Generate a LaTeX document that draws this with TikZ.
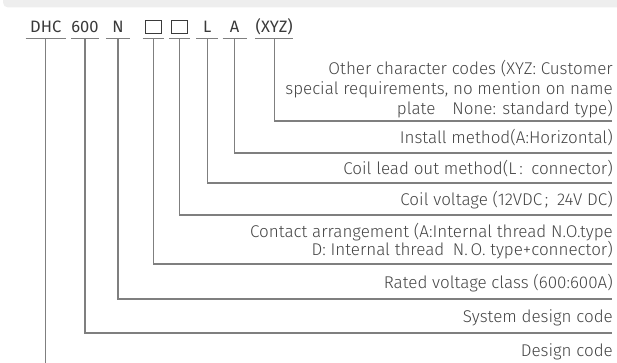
\documentclass[tikz,border=0pt]{standalone}
\usepackage{fontspec}
\setmainfont{Fira Sans Light}
\newfontfamily\codefont{Fira Sans}
\usetikzlibrary{calc}
\definecolor{txt}{HTML}{444444}
\definecolor{codetxt}{HTML}{3A3A3A}
\definecolor{ln}{HTML}{7F7F7F}
\definecolor{band}{HTML}{EEEEEE}
\newcommand{\codebox}{{\setlength\fboxsep{0pt}\setlength\fboxrule{0.8pt}\fbox{\rule{0pt}{12pt}\hspace{15pt}}}}
\tikzset{
  code/.style={anchor=base, inner xsep=0pt, inner ysep=5.3pt, text depth=0pt,
    font=\codefont\fontsize{16.5}{18}\selectfont, text=codetxt, minimum width=#1},
  uline/.style={draw=ln, line width=1.1pt},
  conn/.style={draw=ln, line width=1.1pt},
  lbl/.style={anchor=east, inner sep=0pt, align=right, text=txt,
    font=\fontsize{17}{17}\selectfont},
}
\begin{document}
\begin{tikzpicture}[x=1pt,y=-1pt]
\useasboundingbox (0,0) rectangle (617,363);
\begin{scope}
\clip (0,0) rectangle (617,363);
\fill[band, rounded corners=5pt] (3,-12) rectangle (640,7.5);
\end{scope}
% code row
\node[code=40pt] (c1) at (45.7,33) {DHC};
\node[code=25pt] (c2) at (85,33) {600};
\node[code=24pt] (c3) at (118,33) {N};
\node[code=21pt] (c4) at (153.3,33) {\codebox};
\node[code=20.5pt] (c5) at (179.5,33) {\codebox};
\node[code=22pt] (c6) at (207.2,33) {L};
\node[code=24pt] (c7) at (234.7,33) {A};
\node[code=38pt] (c8) at (274.2,33) {(XYZ)};
\foreach \i in {1,...,8} \draw[uline] (c\i.south west) -- (c\i.south east);
% label ends
\coordinate (e8) at (612,121);
\coordinate (e7) at (612,153);
\coordinate (e6) at (612,183);
\coordinate (e5) at (612,215);
\coordinate (e4) at (612,264);
\coordinate (e3) at (612,299);
\coordinate (e2) at (612,333);
\coordinate (e1) at (c1.south |- 0,363);
% labels
\node[lbl, font=\fontsize{17}{20}\selectfont] (l8) at (613,89) {Other character codes (XYZ: Customer\\special requirements, no mention on name\\plate\quad None: standard type)};
\node[lbl] (l7) at (613,138) {Install method(A:Horizontal)};
\node[lbl] (l6) at (613,169) {Coil lead out method(L\,:\enspace connector)};
\node[lbl] (l5) at (613,200) {Coil voltage (12VDC\,;\enspace 24V DC)};
\node[lbl] (l4) at (613,241) {Contact arrangement (A:Internal thread N.O.type\\D: Internal thread\enspace N.\,O. type+connector)};
\node[lbl] (l3) at (613,283.5) {Rated voltage class (600:600A)};
\node[lbl] (l2) at (613,317.5) {System design code};
\node[lbl] (l1) at (613,351.5) {Design code};
% connectors
\foreach \i in {2,...,8} \draw[conn] (c\i.south) |- (e\i);
\draw[conn] (c1.south) -- (e1);
\end{tikzpicture}
\end{document}
